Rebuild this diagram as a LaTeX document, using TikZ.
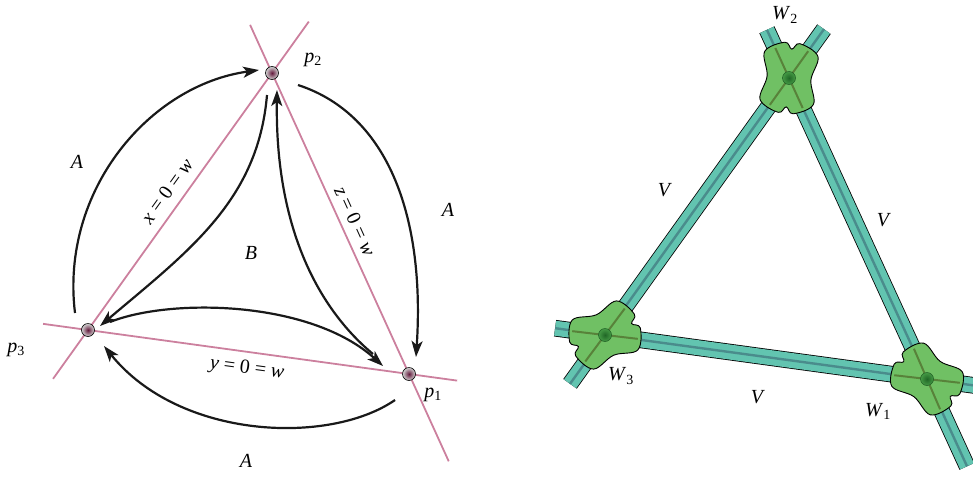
\documentclass[tikz,border=0pt]{standalone}
\usepackage{fontspec}
\setmainfont{Liberation Serif}
\usetikzlibrary{arrows.meta, positioning, calc, backgrounds}

\definecolor{rose}{RGB}{204,128,158}
\definecolor{dotcore}{RGB}{100,25,60}
\definecolor{barteal}{RGB}{98,196,176}
\definecolor{barmid}{RGB}{74,140,140}
\definecolor{blobgreen}{RGB}{112,192,100}
\definecolor{blobline}{RGB}{88,130,58}
\definecolor{dotgreen}{RGB}{40,128,48}

\begin{document}
\begin{tikzpicture}[
    x=1pt, y=-1pt,
    >={Stealth[length=16pt, width=11pt, inset=4pt]},
    every node/.style={font=\fontsize{20}{23}\selectfont},
    pointnode/.style={circle, draw=black, line width=0.6pt, inner color=dotcore, outer color=gray!35, minimum size=13pt, inner sep=0pt},
    wline/.style={rose, line width=1.8pt},
    conn/.style={->, black!90, line width=2.2pt},
    bar/.style={draw=black, line width=0.8pt, double=barteal, double distance=15pt},
    barline/.style={barmid, line width=2.4pt},
    blob/.style={draw=black, line width=0.9pt, fill=blobgreen},
    blobaxis/.style={blobline, line width=2pt},
    greendot/.style={circle, draw=dotgreen!70!black, line width=0.5pt, inner color=dotgreen!80!black, outer color=dotgreen!60!blobgreen, minimum size=13pt, inner sep=0pt}
]
\useasboundingbox (0,0) rectangle (973,477);

% Points
\node[pointnode] (p1) at (409,374) {};
\node[pointnode] (p2) at (272,73) {};
\node[pointnode] (p3) at (88,330) {};

\node (p1lab) at (433,395) {\textit{p}\textsubscript{1}};
\node (p2lab) at (313,60) {\textit{p}\textsubscript{2}};
\node (p3lab) at (16,350) {\textit{p}\textsubscript{3}};

% Lines through the points
\begin{scope}[on background layer]
\draw[wline] ($(p3)!-0.19!(p2)$) -- ($(p2)!-0.2!(p3)$);
\draw[wline] ($(p2)!-0.16!(p1)$) -- ($(p1)!-0.29!(p2)$);
\draw[wline] ($(p3)!-0.14!(p1)$) -- ($(p1)!-0.15!(p3)$);
\end{scope}

\node[rotate=54.4] (xlab) at (167,191) {\textit{x} = 0 = \textit{w}};
\node[rotate=-65.5] (zlab) at (355,221) {\textit{z} = 0 = \textit{w}};
\node[rotate=-7.8] (ylab) at (247,369) {\textit{y} = 0 = \textit{w}};

% Arrow ends
\coordinate (o3s) at (75,313);
\coordinate (o2e) at (259,70);
\coordinate (o2s) at (298,85);
\coordinate (o1e) at (416,357);
\coordinate (o1s) at (395,400);
\coordinate (o3e) at (104,346);
\coordinate (i1s) at (373,354);
\coordinate (i2e) at (277,90);
\coordinate (i2s) at (267,95);
\coordinate (i3e) at (100,326);
\coordinate (i3s) at (110,322);
\coordinate (i1e) at (383,366);

% Outer arrows
\draw[conn] (o3s) .. controls (60,190) and (150,85) .. (o2e);
\draw[conn] (o2s) .. controls (390,115) and (425,220) .. (o1e);
\draw[conn] (o1s) .. controls (330,445) and (180,440) .. (o3e);

% Inner arrows
\draw[conn] (i1s) .. controls (320,310) and (275,230) .. (i2e);
\draw[conn] (i2s) .. controls (258,200) and (190,250) .. (i3e);
\draw[conn] (i3s) .. controls (170,298) and (310,300) .. (i1e);

\node (a1) at (77,162) {\textit{A}};
\node (a2) at (448,210) {\textit{A}};
\node (a3) at (246,461) {\textit{A}};
\node (b) at (251,253) {\textit{B}};

% Right triangle
\coordinate (W2) at (789,78);
\coordinate (W3) at (605,335);
\coordinate (W1) at (927,379);

% Bars
\foreach \a/\b/\s/\t in {W3/W2/0.19/0.19, W2/W1/0.16/0.29, W3/W1/0.155/0.25} {
    \draw[bar] ($(\a)!-\s!(\b)$) -- ($(\b)!-\t!(\a)$);
    \draw[barline] ($(\a)!-\s!(\b)$) -- ($(\b)!-\t!(\a)$);
}

% Blobs at the vertices
\foreach \v/\r in {W2/-84.5, W3/-23.3, W1/36.6} {
    \draw[blob, shift={(\v)}] plot[smooth cycle, tension=0.6] coordinates {
        ({\r-48}:36) ({\r-12}:36) (\r:29) ({\r+12}:36) ({\r+48}:36) ({\r+90}:22)
        ({\r+132}:36) ({\r+168}:36) ({\r+180}:29) ({\r+192}:36) ({\r+228}:36) ({\r+270}:22)};
    \draw[blobaxis] ($(\v)+({\r-30}:33)$) -- ($(\v)+({\r+150}:33)$);
    \draw[blobaxis] ($(\v)+({\r+30}:33)$) -- ($(\v)+({\r+210}:33)$);
    \node[greendot] (d\v) at (\v) {};
}

\node (w1lab) at (878,411) {\textit{W}\textsubscript{1}};
\node (w2lab) at (785,15) {\textit{W}\textsubscript{2}};
\node (w3lab) at (621,376) {\textit{W}\textsubscript{3}};

\node (v1) at (665,190) {\textit{V}};
\node (v2) at (884,220) {\textit{V}};
\node (v3) at (758,397) {\textit{V}};

\end{tikzpicture}
\end{document}
